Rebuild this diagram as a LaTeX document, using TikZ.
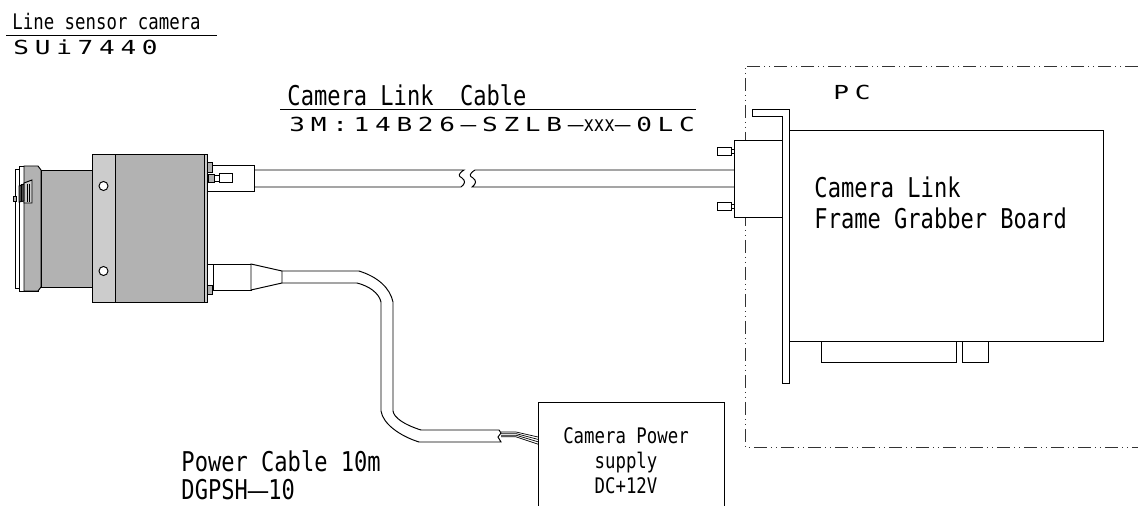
\documentclass[tikz,border=0pt]{standalone}
\usepackage{fontspec}
\usepackage{xcolor}
\usetikzlibrary{positioning}
\newfontfamily\gothicfont[FakeStretch=0.81]{DejaVu Sans Mono}
\newfontfamily\widefont[FakeStretch=1.35,LetterSpace=29.5]{DejaVu Sans Mono}
\definecolor{bodygray}{HTML}{B2B2B2}
\definecolor{bandgray}{HTML}{CCCCCC}

\begin{document}
\begin{tikzpicture}[
    x=0.02cm, y=-0.02cm,
    line width=0.55pt,
    part/.style={draw, fill=white},
    grayfill/.style={draw, fill=bodygray},
    chain/.style={draw=black!80, dash pattern=on 0.26cm off 0.08cm on 0.02cm off 0.08cm on 0.02cm off 0.08cm},
    title/.style={inner sep=0pt, anchor=west, font=\gothicfont\fontsize{12.2}{14}\selectfont},
    cabletitle/.style={title, font=\gothicfont\fontsize{15.5}{18}\selectfont, align=left},
    wide/.style={inner sep=0pt, anchor=west, font=\widefont\fontsize{11}{13}\selectfont},
    psutext/.style={inner sep=0pt, align=center, font=\gothicfont\fontsize{12.2}{14.2}\selectfont}
]
    \useasboundingbox (0,0) rectangle (1138,506);

    % Titles
    \node[title] (camname) at (12,22) {Line sensor camera};
    \node[wide] (cammodel) at (13,47) {SUi7440};
    \draw (6,35) -- (217,35);

    \node[cabletitle] (linkname) at (287,95) {Camera Link\ \ Cable};
    \node[wide] (linkmodel) at (289,124) {3M:14B26—SZLB—{\gothicfont\fontsize{12.2}{14}\selectfont xxx}—0LC};
    \draw (280,109) -- (696,109);

    % PC frame
    \draw[chain] (1138,66) -- (745,66) -- (745,447) -- (1138,447);
    \node[wide] (pcname) at (833,92) {PC};

    % Board and bracket
    \draw[part] (789,130) -- (1103,130) -- (1103,341) -- (789,341);
    \draw[part] (821,341) rectangle (956,362);
    \draw[part] (962,341) rectangle (988,362);
    \draw[part] (752,109) -- (789,109) -- (789,383) -- (782,383) -- (782,116) -- (752,116) -- cycle;
    \node[cabletitle] (boardname) at (814,203) {Camera Link\\Frame Grabber Board};

    % Link connector at the board
    \draw[part] (734,140) rectangle (782,217);
    \foreach \yy in {147,202} {
        \draw[part] (717,\yy) rectangle (731,\yy+8);
        \draw[part] (731,\yy+2) rectangle (734,\yy+6);
    }

    % Link cable
    \draw (254,170) -- (464,170) .. controls (458,174) and (458,176) .. (462,178) .. controls (466,181) and (465,184) .. (461,187) -- (254,187);
    \draw (734,170) -- (475,170) .. controls (469,174) and (469,176) .. (473,178) .. controls (477,181) and (476,184) .. (472,187) -- (734,187);

    % Camera
    \draw[part] (15,169) rectangle (19,288);
    \draw[part] (19,166) rectangle (38,291);
    \draw[grayfill] (24,166) -- (38,166) -- (41,170) -- (41,287) -- (38,291) -- (24,291) -- cycle;
    \draw[grayfill] (41,170) rectangle (92,287);
    \draw[draw=black, fill=bandgray] (92,154) rectangle (115,302);
    \draw[grayfill] (115,154) rectangle (204,302);
    \draw[draw=black, fill=bandgray] (204,154) rectangle (207,302);
    \draw[part] (103.5,186) circle (4.5);
    \draw[part] (103.5,271) circle (4.5);

    % Lens switch
    \draw[grayfill] (13.5,196) rectangle (16,201);
    \draw[draw=black, fill=bandgray] (24,183) -- (32,180) -- (32,203) -- (24,203) -- cycle;
    \draw[draw=black, fill=black!70] (19,186) -- (24,184) -- (24,201) -- (19,202) -- cycle;
    \foreach \xx in {21,27,29} {
        \draw (\xx,184) -- (\xx,202);
    }

    % Link connector at the camera
    \draw[part] (207,165) rectangle (254,191);
    \draw[grayfill] (207,162) rectangle (212,172);
    \draw[grayfill] (208,174) rectangle (214,182);
    \draw[part] (214,175) rectangle (219,181);
    \draw[part] (219,173) rectangle (232,182);

    % Power connector
    \draw[part] (207,264) rectangle (213,290);
    \draw[part] (213,264) rectangle (251,290);
    \draw[part] (251,264) -- (282,271) -- (282,283) -- (251,290) -- cycle;
    \draw[grayfill] (207,285) rectangle (212,294);

    % Power cable
    \draw (282,271) -- (359,271) .. controls (378,277) and (390,288) .. (393,302) -- (393,411) .. controls (394,418) and (405,425) .. (421,430) -- (499,430) -- (501,433);
    \draw (282,283) -- (357,283) .. controls (369,286) and (379,293) .. (381,302) -- (381,411) .. controls (383,424) and (400,436) .. (419,442) -- (501,442) -- (498,437) -- (501,433);
    \foreach \yy in {0,1,2,3} {
        \draw[line width=0.4pt] (501,432+1.6*\yy) -- (516,432+1.6*\yy) -- (538,437+2.4*\yy);
    }

    % Power supply
    \draw[part] (538,506) -- (538,402) -- (724,402) -- (724,506);
    \node[psutext] (psuname) at (626,461) {Camera Power\\supply\\DC+12V};

    % Power cable title
    \node[cabletitle, font=\gothicfont\fontsize{15.5}{16}\selectfont] (powername) at (181,475) {Power Cable 10m\\DGPSH{\widefont\fontsize{14.3}{16}\selectfont —}10};
\end{tikzpicture}
\end{document}
